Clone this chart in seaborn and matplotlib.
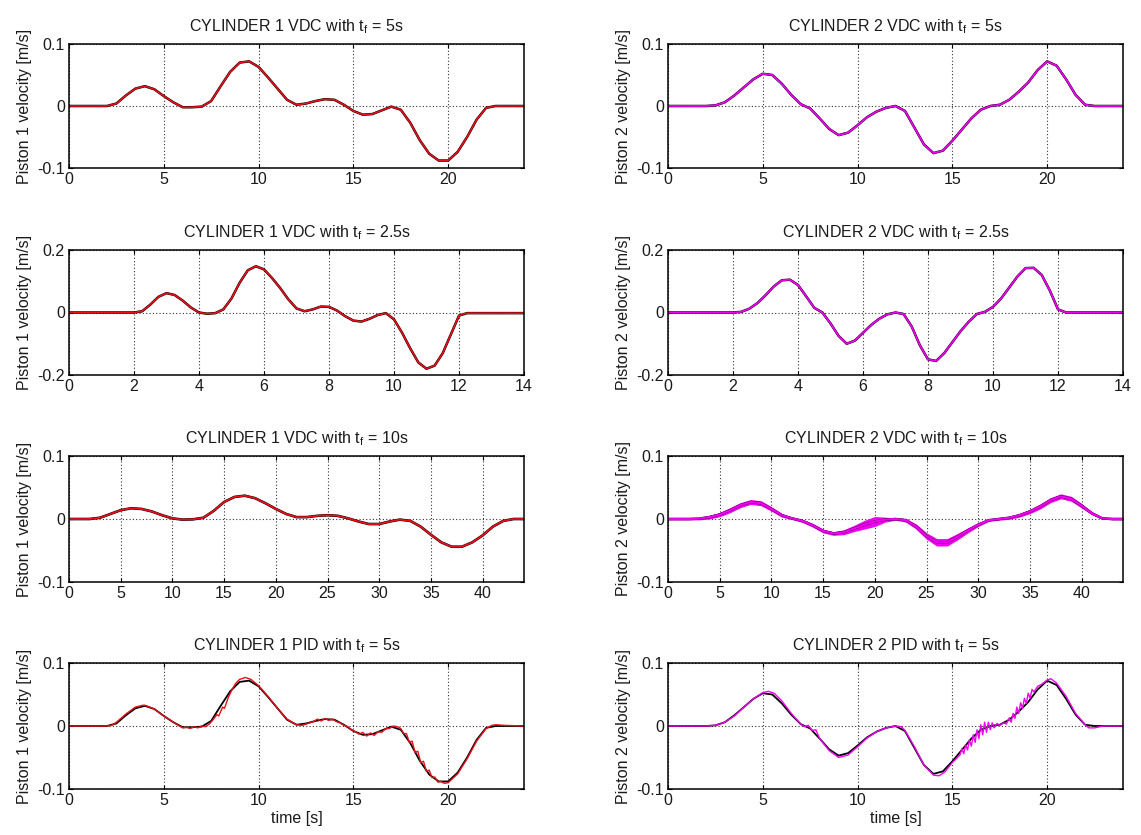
import numpy as np
import matplotlib
matplotlib.use("Agg")
import matplotlib.pyplot as plt
import seaborn as sns

# ---------------- data ----------------
# time grids
T_TF5 = np.arange(0, 24.001, 0.5)
T_TF25 = np.arange(0, 14.001, 0.25)
T_TF10 = np.arange(0, 44.001, 1.0)

# Cylinder 1, VDC, tf = 5 s (reference ~ measured)
C1_TF5 = [0, 0, 0, 0, 0,
          0.004, 0.017, 0.028, 0.032, 0.027, 0.016, 0.006, -0.002, -0.002, -0.001,
          0.008, 0.032, 0.055, 0.070, 0.072, 0.063, 0.046, 0.028, 0.010, 0.002,
          0.004, 0.008, 0.011, 0.010, 0.002, -0.008, -0.014, -0.013, -0.007, -0.001,
          -0.006, -0.027, -0.055, -0.077, -0.088, -0.088, -0.074, -0.050, -0.022, -0.003,
          0, 0, 0, 0]

# Cylinder 2, VDC, tf = 5 s
C2_TF5 = [0, 0, 0, 0, 0,
          0.001, 0.006, 0.017, 0.030, 0.043, 0.052, 0.050, 0.036, 0.018, 0.003,
          -0.004, -0.020, -0.037, -0.047, -0.043, -0.031, -0.018, -0.009, -0.003, 0.000,
          -0.008, -0.035, -0.062, -0.076, -0.072, -0.056, -0.038, -0.020, -0.006, 0.000,
          0.002, 0.010, 0.023, 0.038, 0.058, 0.072, 0.065, 0.043, 0.018, 0.002,
          0, 0, 0, 0]

# Cylinder 1, VDC, tf = 2.5 s
C1_TF25 = [0, 0, 0, 0, 0, 0, 0, 0, 0,
           0.004, 0.025, 0.050, 0.062, 0.056, 0.038, 0.016, 0.000, -0.004, -0.002,
           0.010, 0.045, 0.095, 0.135, 0.148, 0.138, 0.110, 0.078, 0.042, 0.013,
           0.004, 0.010, 0.019, 0.018, 0.006, -0.012, -0.026, -0.029, -0.020, -0.008,
           -0.002, -0.022, -0.065, -0.115, -0.160, -0.180, -0.170, -0.130, -0.070, -0.010,
           -0.002, -0.002, -0.002, -0.002, -0.002, -0.002, -0.002, -0.002]

# Cylinder 2, VDC, tf = 2.5 s
C2_TF25 = [0, 0, 0, 0, 0, 0, 0, 0, 0,
           0.002, 0.012, 0.030, 0.055, 0.083, 0.103, 0.105, 0.088, 0.052, 0.015,
           0.000, -0.035, -0.075, -0.100, -0.090, -0.065, -0.040, -0.020, -0.006, 0.000,
           -0.005, -0.045, -0.105, -0.150, -0.155, -0.130, -0.095, -0.060, -0.030, -0.005,
           0.002, 0.018, 0.045, 0.080, 0.115, 0.142, 0.143, 0.120, 0.070, 0.010,
           0, 0, 0, 0, 0, 0, 0, 0]

# Cylinder 1, VDC, tf = 10 s
C1_TF10 = [0, 0, 0, 0.002, 0.008, 0.014, 0.017, 0.016, 0.012, 0.006,
           0.001, -0.001, -0.0005, 0.002, 0.013, 0.027, 0.035, 0.037, 0.033, 0.025,
           0.016, 0.008, 0.003, 0.003, 0.005, 0.006, 0.005, 0.001, -0.004, -0.008,
           -0.008, -0.004, -0.001, -0.003, -0.012, -0.025, -0.037, -0.044, -0.044, -0.037,
           -0.026, -0.012, -0.003, 0, 0]

# Cylinder 2, VDC, tf = 10 s (reference) and half-width of the oscillating band
C2_TF10 = [0, 0, 0, 0.0005, 0.003, 0.007, 0.014, 0.022, 0.027, 0.025,
           0.016, 0.006, 0.001, -0.003, -0.010, -0.019, -0.023, -0.021, -0.015, -0.009,
           -0.004, -0.001, 0.000, -0.002, -0.012, -0.027, -0.037, -0.037, -0.028, -0.018,
           -0.009, -0.002, 0.000, 0.002, 0.006, 0.012, 0.020, 0.030, 0.036, 0.032,
           0.021, 0.009, 0.001, 0, 0]
C2_TF10_SPREAD = [0.0005, 0.0005, 0.0005, 0.001, 0.002, 0.0025, 0.003, 0.003, 0.003, 0.003,
                  0.0025, 0.002, 0.001, 0.0015, 0.002, 0.002, 0.002, 0.003, 0.004, 0.006,
                  0.007, 0.003, 0.001, 0.002, 0.003, 0.004, 0.005, 0.005, 0.004, 0.003,
                  0.002, 0.001, 0.001, 0.0015, 0.002, 0.0025, 0.003, 0.003, 0.003, 0.003,
                  0.0025, 0.0015, 0.0005, 0.0005, 0.0005]

# Cylinder 1, PID, tf = 5 s : measured response
T_C1_PID = [0, 1, 2, 2.25, 2.5, 3.0, 3.5, 3.9, 4.0, 4.5, 5.0, 5.5, 6.0, 6.2, 6.4, 6.6, 6.8,
            7.0, 7.2, 7.4, 7.6, 7.8, 7.9, 8.1, 8.2, 8.4, 8.6, 8.8, 9.0, 9.3, 9.6, 10.0,
            10.5, 11.0, 11.5, 12.0, 12.3, 12.6, 12.9, 13.1, 13.3, 13.5, 13.7, 13.9, 14.1,
            14.3, 14.5, 14.7, 14.9, 15.1, 15.3, 15.5, 15.7, 15.9, 16.1, 16.3, 16.5, 16.7,
            16.9, 17.1, 17.3, 17.5, 17.65, 17.8, 17.95, 18.1, 18.25, 18.4, 18.55, 18.7,
            18.85, 19.0, 19.15, 19.3, 19.45, 19.6, 19.8, 20.0, 20.5, 21.0, 21.5, 22.0,
            22.3, 22.5, 23.0, 24.0]
V_C1_PID = [0, 0, 0, 0.001, 0.006, 0.019, 0.030, 0.033, 0.033, 0.027, 0.016, 0.006, -0.003,
            -0.002, -0.004, -0.001, -0.003, 0.000, -0.001, 0.003, 0.010, 0.018, 0.016, 0.030,
            0.028, 0.045, 0.058, 0.068, 0.074, 0.077, 0.074, 0.064, 0.047, 0.028, 0.011,
            0.002, 0.001, 0.004, 0.007, 0.011, 0.008, 0.012, 0.009, 0.011, 0.007, 0.005,
            0.001, -0.001, -0.006, -0.009, -0.013, -0.010, -0.016, -0.011, -0.015, -0.009,
            -0.010, -0.004, -0.004, 0.000, -0.001, -0.004, -0.012, -0.012, -0.026, -0.024,
            -0.042, -0.040, -0.058, -0.056, -0.072, -0.070, -0.082, -0.081, -0.089, -0.088,
            -0.091, -0.090, -0.076, -0.052, -0.024, -0.004, 0.001, 0.002, 0.001, 0]

# Cylinder 2, PID, tf = 5 s : measured response
T_C2_PID = [0, 1, 2, 2.5, 3.0, 3.5, 4.0, 4.5, 5.0, 5.3, 5.6, 6.0, 6.5, 7.0, 7.2, 7.4, 7.6,
            7.8, 8.0, 8.5, 9.0, 9.5, 10.0, 10.5, 11.0, 11.5, 12.0, 12.3, 12.5, 13.0, 13.5,
            14.0, 14.3, 14.6, 15.0, 15.2, 15.4, 15.5, 15.6, 15.7, 15.8, 15.9, 16.0, 16.1,
            16.2, 16.3, 16.4, 16.5, 16.6, 16.7, 16.8, 16.9, 17.0, 17.1, 17.2, 17.35, 17.5,
            17.7, 17.85, 18.0, 18.1, 18.2, 18.3, 18.4, 18.5, 18.6, 18.7, 18.8, 18.9, 19.0,
            19.1, 19.2, 19.3, 19.5, 19.7, 20.0, 20.2, 20.5, 21.0, 21.5, 22.0, 22.2, 22.5,
            22.8, 23.0, 24.0]
V_C2_PID = [0, 0, 0, 0.001, 0.006, 0.016, 0.030, 0.043, 0.053, 0.055, 0.052, 0.040, 0.020,
            0.003, -0.001, 0.001, -0.007, -0.006, -0.020, -0.039, -0.050, -0.046, -0.033,
            -0.019, -0.009, -0.003, 0.000, -0.001, -0.007, -0.033, -0.062, -0.078, -0.079,
            -0.073, -0.058, -0.052, -0.046, -0.036, -0.044, -0.030, -0.038, -0.022, -0.032,
            -0.014, -0.026, -0.006, -0.020, 0.002, -0.014, 0.006, -0.010, 0.006, -0.006,
            0.005, -0.003, 0.004, 0.001, 0.005, 0.003, 0.013, 0.006, 0.020, 0.012, 0.030,
            0.020, 0.037, 0.028, 0.044, 0.036, 0.052, 0.044, 0.058, 0.054, 0.063, 0.066,
            0.073, 0.075, 0.068, 0.047, 0.020, 0.002, -0.003, -0.003, -0.001, 0, 0]

# axis ticks / labels
XT_TF5 = [0, 5, 10, 15, 20]
XT_TF25 = [0, 2, 4, 6, 8, 10, 12, 14]
XT_TF10 = [0, 5, 10, 15, 20, 25, 30, 35, 40]
YT_01 = [-0.1, 0, 0.1]
YL_01 = ['-0.1', '0', '0.1']
YT_02 = [-0.2, 0, 0.2]
YL_02 = ['-0.2', '0', '0.2']

TITLES = [
    ["CYLINDER 1 VDC with $\\mathregular{t_f}$ = 5s", "CYLINDER 2 VDC with $\\mathregular{t_f}$ = 5s"],
    ["CYLINDER 1 VDC with $\\mathregular{t_f}$ = 2.5s", "CYLINDER 2 VDC with $\\mathregular{t_f}$ = 2.5s"],
    ["CYLINDER 1 VDC with $\\mathregular{t_f}$ = 10s", "CYLINDER 2 VDC with $\\mathregular{t_f}$ = 10s"],
    ["CYLINDER 1 PID with $\\mathregular{t_f}$ = 5s", "CYLINDER 2 PID with $\\mathregular{t_f}$ = 5s"],
]
YLABELS = ["Piston 1 velocity [m/s]", "Piston 2 velocity [m/s]"]
XLABEL = "time [s]"

# ---------------- style ----------------
sns.set_theme(style="white")
plt.rcParams['font.family'] = ['Liberation Sans', 'DejaVu Sans']
plt.rcParams['mathtext.fontset'] = 'custom'
plt.rcParams['mathtext.rm'] = 'Liberation Sans'
plt.rcParams['mathtext.it'] = 'Liberation Sans:italic'
plt.rcParams['lines.solid_joinstyle'] = 'round'
plt.rcParams['lines.solid_capstyle'] = 'round'

FS = 11.5
TXT = '#1a1a1a'
RED = '#e8101a'
MAG = '#f000f0'

W, H = 1141, 835
fig = plt.figure(figsize=(W / 100, H / 100), dpi=100)
fig.patch.set_facecolor('white')
COL_LEFT = [69, 668]
AX_W = 455
ROWS = [(44, 168), (250, 375), (456, 582), (663, 789)]


def make_ax(row, col):
    t, b = ROWS[row]
    return fig.add_axes([COL_LEFT[col] / W, 1 - b / H, AX_W / W, (b - t) / H])


def style(ax, row, col, xlim, xticks, yticks, ylabels):
    ax.set_xlim(*xlim)
    ax.set_ylim(yticks[0], yticks[-1])
    ax.set_xticks(xticks)
    ax.set_xticklabels([str(x) for x in xticks], fontsize=FS)
    ax.set_yticks(yticks)
    ax.set_yticklabels(ylabels, fontsize=FS)
    ax.grid(True, linestyle=(0, (1, 2)), color='#333333', linewidth=0.8)
    ax.set_axisbelow(True)
    for s in ax.spines.values():
        s.set_color('black')
        s.set_linewidth(1.1)
    ax.tick_params(direction='in', length=3, width=0.8, colors='black',
                   labelcolor=TXT, pad=3, top=True, right=True,
                   bottom=True, left=True)
    ax.set_title(TITLES[row][col], fontsize=FS, color=TXT, pad=9)
    ax.set_ylabel(YLABELS[col], fontsize=FS, color=TXT, labelpad=4)
    if row == 3:
        ax.set_xlabel(XLABEL, fontsize=FS, color=TXT, labelpad=2)
    else:
        ax.set_xlabel('')


def line(ax, x, y, color, lw):
    sns.lineplot(x=list(x), y=list(y), ax=ax, color=color, linewidth=lw,
                 estimator=None, sort=False, legend=False)


# Row 1: tf = 5 s
ax = make_ax(0, 0)
line(ax, T_TF5, C1_TF5, 'black', 1.8)
line(ax, T_TF5, C1_TF5, RED, 1.2)
style(ax, 0, 0, (0, 24), XT_TF5, YT_01, YL_01)

ax = make_ax(0, 1)
line(ax, T_TF5, C2_TF5, 'black', 1.8)
line(ax, T_TF5, C2_TF5, MAG, 1.3)
style(ax, 0, 1, (0, 24), XT_TF5, YT_01, YL_01)

# Row 2: tf = 2.5 s
ax = make_ax(1, 0)
line(ax, T_TF25, C1_TF25, 'black', 1.8)
line(ax, T_TF25, C1_TF25, RED, 1.2)
style(ax, 1, 0, (0, 14), XT_TF25, YT_02, YL_02)

ax = make_ax(1, 1)
line(ax, T_TF25, C2_TF25, 'black', 1.8)
line(ax, T_TF25, C2_TF25, MAG, 1.3)
style(ax, 1, 1, (0, 14), XT_TF25, YT_02, YL_02)

# Row 3: tf = 10 s
ax = make_ax(2, 0)
line(ax, T_TF10, C1_TF10, 'black', 1.9)
line(ax, T_TF10, C1_TF10, RED, 1.3)
style(ax, 2, 0, (0, 44), XT_TF10, YT_01, YL_01)

ax = make_ax(2, 1)
line(ax, T_TF10, C2_TF10, 'black', 1.8)
lo = np.array(C2_TF10) - np.array(C2_TF10_SPREAD)
hi = np.array(C2_TF10) + np.array(C2_TF10_SPREAD)
ax.fill_between(T_TF10, lo, hi, color=MAG, linewidth=0.8, edgecolor=MAG)
line(ax, T_TF10, C2_TF10, MAG, 1.6)
style(ax, 2, 1, (0, 44), XT_TF10, YT_01, YL_01)

# Row 4: PID tf = 5 s
ax = make_ax(3, 0)
line(ax, T_TF5, C1_TF5, 'black', 1.3)
line(ax, T_C1_PID, V_C1_PID, RED, 1.0)
style(ax, 3, 0, (0, 24), XT_TF5, YT_01, YL_01)

ax = make_ax(3, 1)
line(ax, T_TF5, C2_TF5, 'black', 1.3)
line(ax, T_C2_PID, V_C2_PID, MAG, 1.0)
style(ax, 3, 1, (0, 24), XT_TF5, YT_01, YL_01)

fig.savefig("out.png", dpi=100, facecolor='white')
